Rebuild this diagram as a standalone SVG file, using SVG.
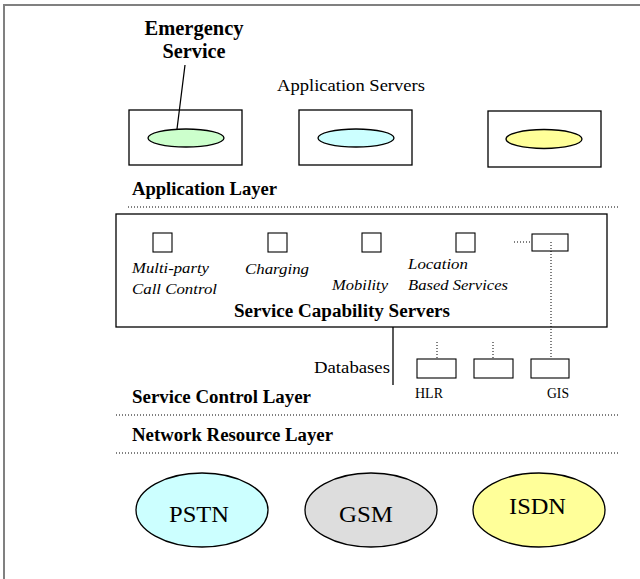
<svg xmlns="http://www.w3.org/2000/svg" width="640" height="579" viewBox="0 0 640 579">
<style>
.t{font-family:'Liberation Serif','Times New Roman',Tinos,serif}
.b{font-weight:bold;font-size:18px}
.i{font-style:italic;font-size:15px}
.box{fill:#fff;stroke:#000;stroke-width:1.3}
.sq{fill:#fff;stroke:#000;stroke-width:1.1}
.dot{stroke:#000;stroke-width:1;stroke-dasharray:1,2;fill:none}
.ln{stroke:#000;stroke-width:1.3;fill:none}
.el{stroke:#000;stroke-width:1.3}
</style>
<rect x="0" y="0" width="640" height="579" fill="#fff"/>
<path d="M4 579 V5 H640" fill="none" stroke="#808080" stroke-width="2"/>

<g font-family="Liberation Serif, Times New Roman, serif" class="t">
<g id="emergency-label">
<text x="194" y="35" text-anchor="middle" font-size="20" font-weight="bold" textLength="99" lengthAdjust="spacingAndGlyphs">Emergency</text>
<text x="194" y="58" text-anchor="middle" font-size="20" font-weight="bold" textLength="63" lengthAdjust="spacingAndGlyphs">Service</text>
</g>
<text x="277" y="91" font-size="17" textLength="148" lengthAdjust="spacingAndGlyphs">Application Servers</text>

<g id="as1">
<rect class="box" x="129" y="110" width="113" height="55"/>
<ellipse class="el" cx="186" cy="138" rx="38" ry="9" fill="#ccffcc"/>
</g>
<g id="as2">
<rect class="box" x="299" y="110" width="113" height="55"/>
<ellipse class="el" cx="356" cy="138" rx="38" ry="9" fill="#ccffff"/>
</g>
<g id="as3">
<rect class="box" x="488" y="111" width="113" height="56"/>
<ellipse class="el" cx="544" cy="139" rx="38" ry="9.5" fill="#ffff99"/>
</g>

<text class="b" x="132" y="195" textLength="145" lengthAdjust="spacingAndGlyphs">Application Layer</text>
<line class="dot" x1="128" y1="207" x2="620" y2="207"/>

<g id="scs">
<rect class="box" x="116" y="214" width="491" height="113"/>
<rect class="sq" x="153" y="233" width="19" height="19"/>
<rect class="sq" x="268" y="233" width="19" height="19"/>
<rect class="sq" x="362" y="233" width="19" height="19"/>
<rect class="sq" x="456" y="233" width="19" height="19"/>
<rect class="sq" x="532" y="234" width="36" height="17"/>
<text class="i" x="132" y="273" textLength="77" lengthAdjust="spacingAndGlyphs">Multi-party</text>
<text class="i" x="132" y="294" textLength="85" lengthAdjust="spacingAndGlyphs">Call Control</text>
<text class="i" x="245" y="274" textLength="64" lengthAdjust="spacingAndGlyphs">Charging</text>
<text class="i" x="332" y="290" textLength="56" lengthAdjust="spacingAndGlyphs">Mobility</text>
<text class="i" x="408" y="269" textLength="60" lengthAdjust="spacingAndGlyphs">Location</text>
<text class="i" x="408" y="290" textLength="100" lengthAdjust="spacingAndGlyphs">Based Services</text>
<text class="b" x="234" y="317" textLength="216" lengthAdjust="spacingAndGlyphs">Service Capability Servers</text>
</g>

<g id="databases">
<text x="314" y="373" font-size="17" textLength="76" lengthAdjust="spacingAndGlyphs">Databases</text>
<rect class="sq" x="417" y="359" width="39" height="19"/>
<rect class="sq" x="474" y="359" width="39" height="19"/>
<rect class="sq" x="531" y="359" width="38" height="19"/>
<text x="415" y="398" font-size="14" textLength="28" lengthAdjust="spacingAndGlyphs">HLR</text>
<text x="547" y="398" font-size="14" textLength="22" lengthAdjust="spacingAndGlyphs">GIS</text>
</g>

<g id="connectors">
<line class="ln" x1="185" y1="65" x2="177" y2="129"/>
<line class="ln" x1="393" y1="327" x2="393" y2="385"/>
<line class="dot" x1="514" y1="242" x2="532" y2="242"/>
<line class="dot" x1="551" y1="242" x2="551" y2="359"/>
<line class="dot" x1="437" y1="342" x2="437" y2="359"/>
<line class="dot" x1="493" y1="342" x2="493" y2="359"/>
</g>

<text class="b" x="132" y="403" textLength="179" lengthAdjust="spacingAndGlyphs">Service Control Layer</text>
<line class="dot" x1="116" y1="415" x2="620" y2="415"/>
<text class="b" x="132" y="441" textLength="201" lengthAdjust="spacingAndGlyphs">Network Resource Layer</text>
<line class="dot" x1="116" y1="453" x2="620" y2="453"/>

<g id="pstn">
<ellipse class="el" cx="202" cy="510" rx="66" ry="37" fill="#ccffff"/>
<text x="169" y="522" font-size="23" textLength="60" lengthAdjust="spacingAndGlyphs">PSTN</text>
</g>
<g id="gsm">
<ellipse class="el" cx="371" cy="510" rx="66" ry="37" fill="#dddddd"/>
<text x="339" y="522" font-size="23" textLength="54" lengthAdjust="spacingAndGlyphs">GSM</text>
</g>
<g id="isdn">
<ellipse class="el" cx="539" cy="510" rx="66" ry="37" fill="#ffff99"/>
<text x="509" y="514" font-size="23" textLength="57" lengthAdjust="spacingAndGlyphs">ISDN</text>
</g>
</g>
</svg>
